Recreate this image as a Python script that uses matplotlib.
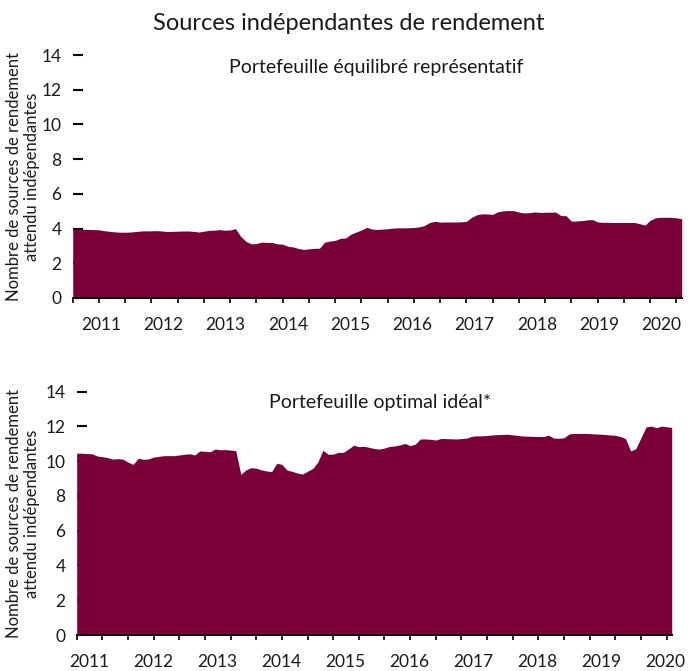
import numpy as np
import matplotlib.pyplot as plt

plt.rcParams['font.family'] = ['Lato', 'DejaVu Sans']

# monthly observations, both panels share the same time span
balanced = [
    3.97, 3.97, 3.96, 3.95, 3.94, 3.93, 3.88, 3.84, 3.81, 3.79,
    3.79, 3.80, 3.83, 3.86, 3.87, 3.87, 3.88, 3.86, 3.83, 3.84,
    3.85, 3.86, 3.86, 3.84, 3.80, 3.85, 3.90, 3.91, 3.94, 3.91,
    3.92, 4.00, 3.55, 3.26, 3.12, 3.14, 3.22, 3.20, 3.20, 3.12,
    3.10, 2.98, 2.94, 2.85, 2.80, 2.83, 2.86, 2.87, 3.22, 3.28,
    3.32, 3.44, 3.46, 3.68, 3.80, 3.92, 4.07, 3.97, 3.95, 3.97,
    3.99, 4.03, 4.04, 4.04, 4.05, 4.06, 4.10, 4.18, 4.35, 4.42,
    4.37, 4.38, 4.38, 4.38, 4.39, 4.42, 4.65, 4.80, 4.85, 4.84,
    4.82, 4.97, 5.02, 5.04, 5.03, 4.95, 4.90, 4.92, 4.96, 4.93,
    4.94, 4.94, 4.95, 4.75, 4.74, 4.42, 4.44, 4.46, 4.50, 4.52,
    4.38, 4.36, 4.36, 4.35, 4.35, 4.35, 4.35, 4.35, 4.28, 4.20,
    4.48, 4.62, 4.65, 4.65, 4.65, 4.62, 4.57,
]

optimal = [
    10.47, 10.46, 10.44, 10.43, 10.30, 10.26, 10.21, 10.12, 10.15, 10.12,
    9.95, 9.82, 10.17, 10.11, 10.13, 10.24, 10.28, 10.32, 10.32, 10.32,
    10.36, 10.40, 10.43, 10.36, 10.59, 10.57, 10.55, 10.70, 10.66, 10.67,
    10.64, 10.61, 9.25, 9.50, 9.63, 9.60, 9.50, 9.44, 9.40, 9.88,
    9.82, 9.49, 9.42, 9.32, 9.26, 9.42, 9.58, 9.95, 10.63, 10.40,
    10.41, 10.51, 10.51, 10.71, 10.92, 10.84, 10.86, 10.80, 10.73, 10.70,
    10.76, 10.85, 10.88, 10.94, 11.02, 10.90, 10.98, 11.28, 11.28, 11.26,
    11.22, 11.31, 11.30, 11.29, 11.28, 11.30, 11.33, 11.43, 11.46, 11.46,
    11.48, 11.51, 11.53, 11.54, 11.55, 11.52, 11.48, 11.45, 11.44, 11.43,
    11.42, 11.42, 11.50, 11.33, 11.32, 11.35, 11.57, 11.60, 11.60, 11.60,
    11.59, 11.57, 11.56, 11.54, 11.51, 11.49, 11.42, 11.30, 10.59, 10.72,
    11.35, 11.97, 12.02, 11.93, 12.02, 11.98, 11.95,
]

years = ['2011', '2012', '2013', '2014', '2015',
         '2016', '2017', '2018', '2019', '2020']
y_ticks = [0, 2, 4, 6, 8, 10, 12, 14]

title = 'Sources indépendantes de rendement'
panel_titles = ['Portefeuille équilibré représentatif',
                'Portefeuille optimal idéal*']
ylabel = 'Nombre de sources de rendement\nattendu indépendantes'

FILL = '#7a0038'
INK = '#1a1a1a'

fig = plt.figure(figsize=(6.98, 6.71), dpi=100)
W, H = 698, 671


def add_axes_px(left, right, top, bottom):
    return fig.add_axes([left / W, 1 - bottom / H,
                         (right - left) / W, (bottom - top) / H])


ax_top = add_axes_px(72.7, 681.7, 55, 298)
ax_bot = add_axes_px(76.7, 671.7, 391.7, 635)

# per panel: first year label position, months between year labels,
# y-label x (axes fraction), panel title position (axes fraction)
layout = [
    dict(first=5.4, step=11.86, ylab_x=-0.0816, sub_xy=(0.498, 0.95)),
    dict(first=2.4, step=12.48, ylab_x=-0.0903, sub_xy=(0.51, 0.955)),
]

for ax, series, sub, lay in zip([ax_top, ax_bot], [balanced, optimal],
                                panel_titles, layout):
    x = np.arange(len(series))
    ax.fill_between(x, 0, series, color=FILL, linewidth=0)

    ax.set_xlim(0, len(series) - 1)
    ax.set_ylim(0, 14)

    for s in ['top', 'right', 'left']:
        ax.spines[s].set_visible(False)
    ax.spines['bottom'].set_linewidth(1.4)
    ax.spines['bottom'].set_zorder(5)

    # small tick marks every 5 months, year labels on their own positions
    ax.set_xticks(np.arange(0, len(series) - 1, 5))
    ax.set_xticklabels([])
    ax.tick_params(axis='x', which='major', direction='out', length=3.5,
                   width=1.2, color='black')
    ax.set_xticks([lay['first'] + k * lay['step'] for k in range(len(years))],
                  minor=True)
    ax.set_xticklabels(years, minor=True)
    ax.tick_params(axis='x', which='minor', length=0, pad=14,
                   labelsize=12.5, labelcolor=INK)

    ax.set_yticks(y_ticks)
    ax.set_yticklabels([str(v) for v in y_ticks])
    ax.tick_params(axis='y', direction='in', length=7, width=1.5,
                   color='black', pad=8, labelsize=12.5, labelcolor=INK)
    ax.set_axisbelow(True)

    ax.set_ylabel(ylabel, fontsize=12, color=INK, va='center',
                  multialignment='center', linespacing=1.2)
    ax.yaxis.set_label_coords(lay['ylab_x'], 0.5)

    ax.text(*lay['sub_xy'], sub, transform=ax.transAxes, ha='center',
            va='center', fontsize=14, color=INK)

fig.text(0.5, 1 - 23 / H, title, ha='center', va='center',
         fontsize=17, color=INK)

fig.savefig('out.png', dpi=100)
